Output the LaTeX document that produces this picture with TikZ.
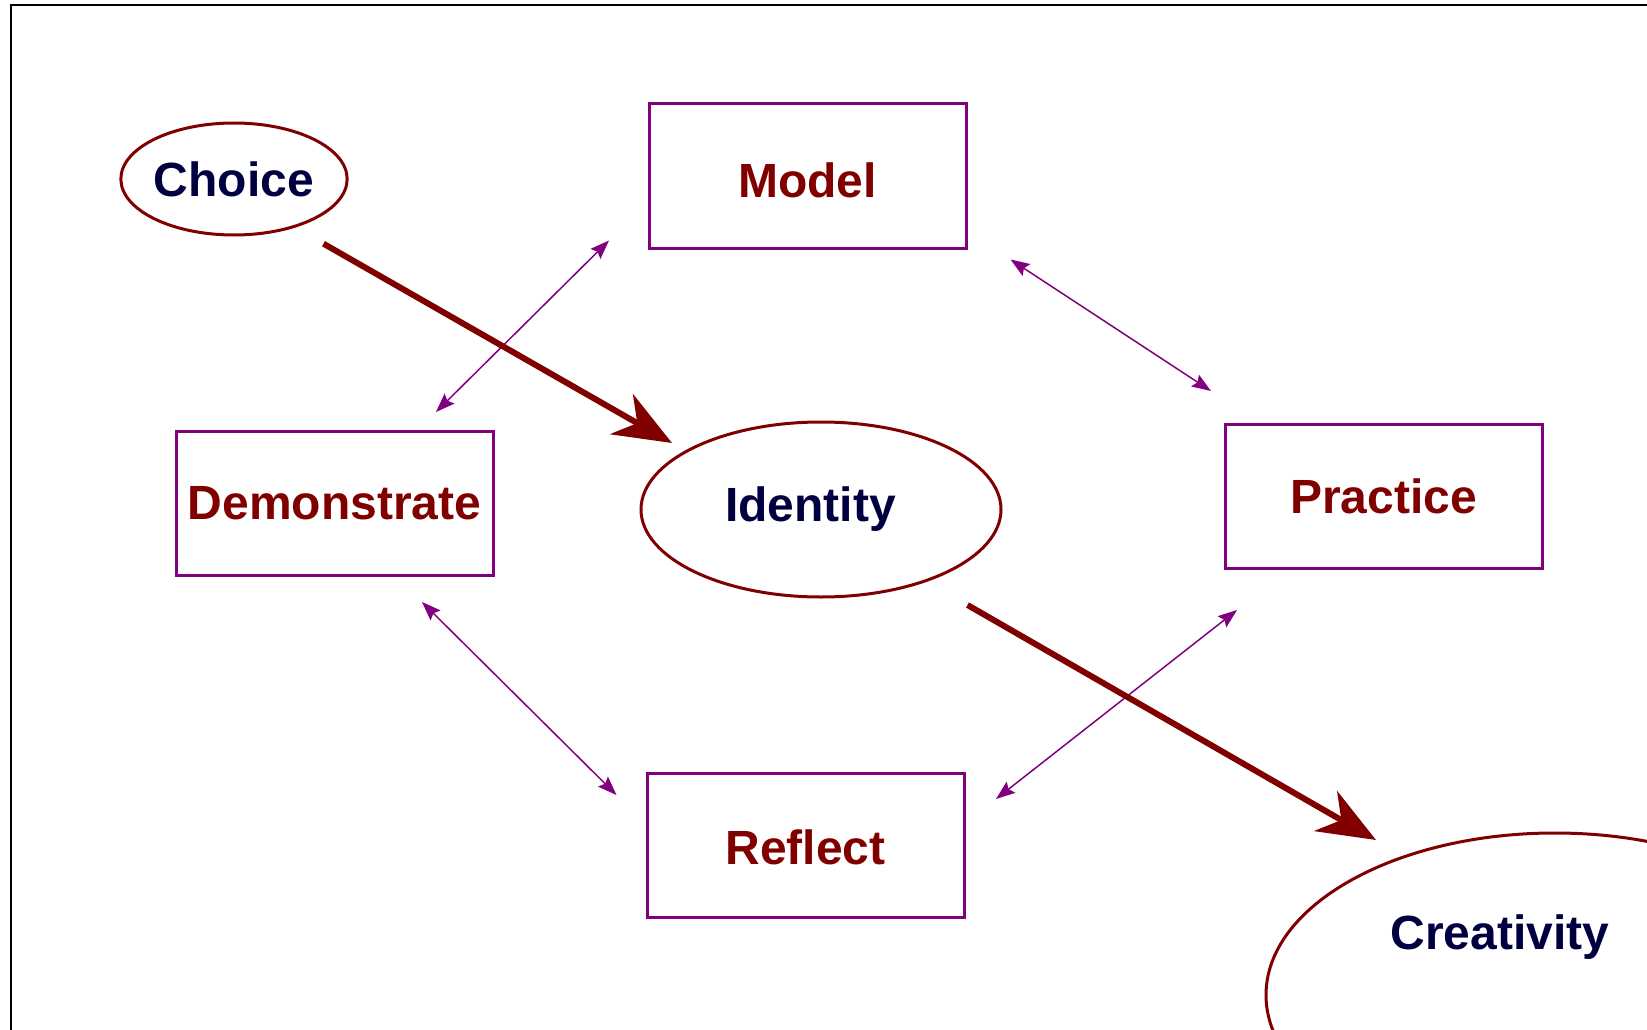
\documentclass[tikz,border=0pt]{standalone}
\usepackage{fontspec}
\setmainfont{Liberation Sans}
\usetikzlibrary{shapes.geometric,arrows.meta}
\definecolor{dred}{HTML}{800000}
\definecolor{dpurple}{HTML}{800080}
\definecolor{dnavy}{HTML}{000040}
\tikzset{
  boxnode/.style={draw=dpurple, line width=3pt, rectangle, minimum width=317pt, minimum height=144pt, inner sep=0pt, text=dred, font=\fontsize{48}{58}\selectfont\bfseries},
  ovalnode/.style={draw=dred, line width=3pt, ellipse, inner sep=0pt, text=dnavy, font=\fontsize{48}{58}\selectfont\bfseries},
  bigarrow/.style={draw=dred, line width=6pt, -{Stealth[length=58pt,width=46pt,inset=18pt]}},
  thinarrow/.style={draw=dpurple, line width=1.5pt, {Stealth[length=19pt,width=14pt,inset=3pt]}-{Stealth[length=19pt,width=14pt,inset=3pt]}}
}
\begin{document}
\begin{tikzpicture}[x=1pt,y=-1pt]
\useasboundingbox (0,0) rectangle (1647,1030);
\fill[white] (0,0) rectangle (1647,1030);
% frame
\coordinate (fbl) at (10.5,1030);
\coordinate (ftl) at (10.5,5.5);
\coordinate (ftr) at (1647,5.5);
\draw[black, line width=2pt] (fbl) -- (ftl) -- (ftr);
% nodes
\node[ovalnode, minimum width=226pt, minimum height=112pt] (choice) at (234,179) {Choice};
\node[boxnode] (model) at (807.5,176) {\raisebox{-4pt}[\height][\depth]{Model}};
\node[boxnode] (demo) at (334.5,503) {Demonstrate};
\node[ovalnode, minimum width=360pt, minimum height=175pt] (identity) at (821,509.5) {Identity\hspace*{21pt}};
\node[boxnode] (practice) at (1383.5,496) {Practice};
\node[boxnode] (reflect) at (805.5,845) {\raisebox{-2pt}[\height][\depth]{Reflect}};
\begin{scope}
\clip (0,0) rectangle (1647,1030);
\node[ovalnode, minimum width=578pt, minimum height=324pt] (creativity) at (1555,995) {};
\end{scope}
\node[text=dnavy, font=\fontsize{48}{58}\selectfont\bfseries] (creativitytext) at (1500,937) {Creativity};
% connector end points
\coordinate (c1s) at (323.5,243.7);
\coordinate (c1e) at (672,443);
\coordinate (c2s) at (967.5,605);
\coordinate (c2e) at (1376,840);
\coordinate (dma) at (436,412);
\coordinate (dmb) at (609,240.5);
\coordinate (mpa) at (1010.5,259.5);
\coordinate (mpb) at (1211,391);
\coordinate (dra) at (422,602);
\coordinate (drb) at (616.5,795);
\coordinate (rpa) at (996,799);
\coordinate (rpb) at (1237,610);
% connectors
\draw[thinarrow] (dma) -- (dmb);
\draw[thinarrow] (mpa) -- (mpb);
\draw[thinarrow] (dra) -- (drb);
\draw[thinarrow] (rpa) -- (rpb);
\draw[bigarrow] (c1s) -- (c1e);
\draw[bigarrow] (c2s) -- (c2e);
\end{tikzpicture}
\end{document}
